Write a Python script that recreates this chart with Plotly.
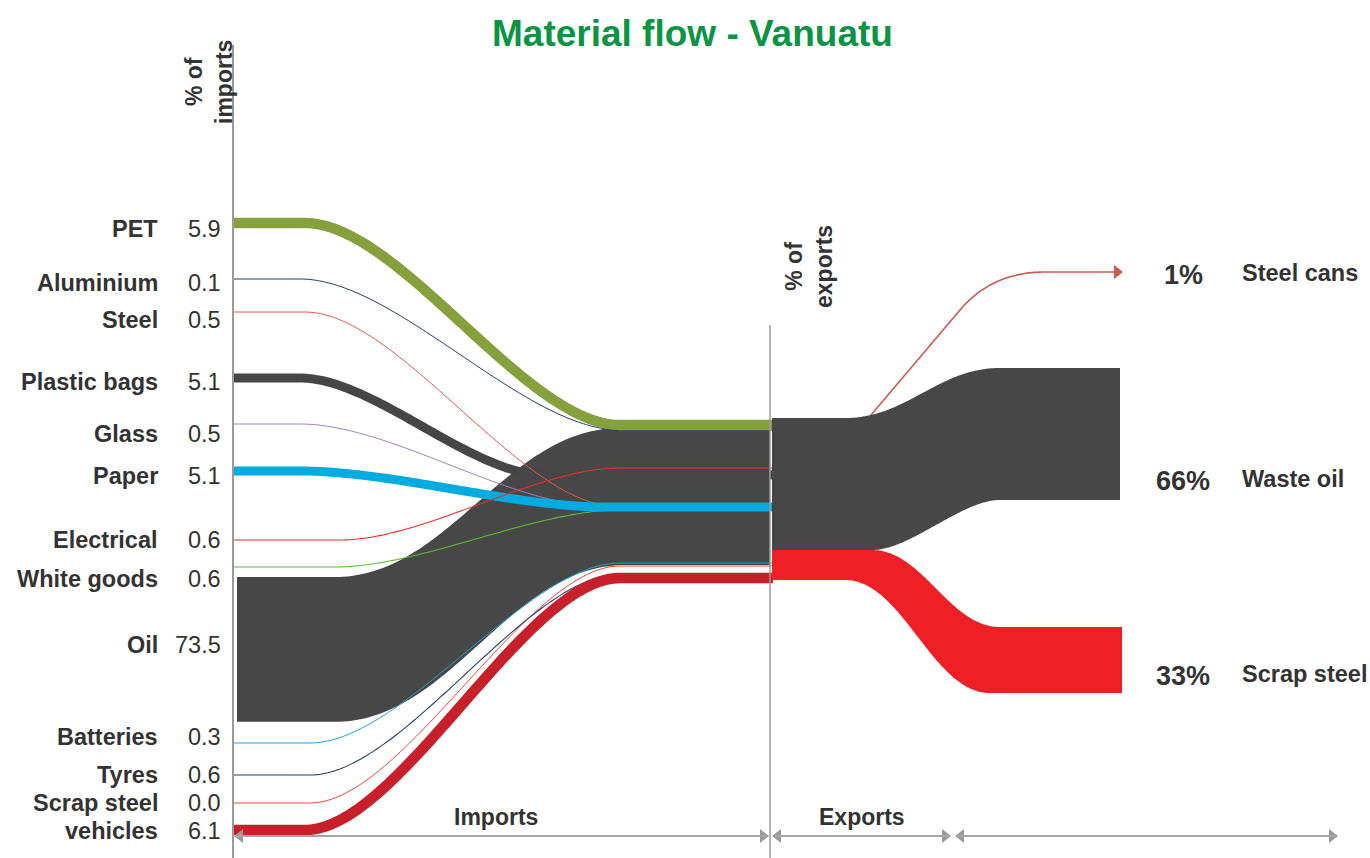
import plotly.graph_objects as go

# ---------------- data ----------------
materials = ["PET", "Aluminium", "Steel", "Plastic bags", "Glass", "Paper",
             "Electrical", "White goods", "Oil", "Batteries", "Tyres",
             "Scrap steel", "vehicles"]
import_pct = [5.9, 0.1, 0.5, 5.1, 0.5, 5.1, 0.6, 0.6, 73.5, 0.3, 0.6, 0.0, 6.1]

export_names = ["Steel cans", "Waste oil", "Scrap steel"]
export_pct = [1, 66, 33]

title_text = "Material flow - Vanuatu"

# ---------------- styling / layout (positions in page pixels) ----------------
colors = ["#86a03e", "#1f3f6e", "#e0584a", "#464646", "#9b80c4", "#00abdf",
          "#e8302a", "#5cbf3a", "#474747", "#1aa6d6", "#1f3a6a", "#e8473a", "#c8202a"]
export_colors = ["#cc5a50", "#474747", "#ee2026"]

y_left = [223, 279, 312, 378, 424, 471, 540, 567, 577, 743, 775, 803, 830]
y_mid = [425, 430, 506, 475, 506, 507, 468, 510, 428, 563, 574, 566, 578]
c_start = [305, 300, 305, 300, 300, 300, 340, 335, 335, 310, 310, 310, 305]
c_end = [620, 620, 615, 545, 600, 605, 620, 620, 620, 620, 620, 620, 620]
label_y = [229, 283, 320, 382, 434, 476, 540, 579, 645, 737, 775, 803, 831]
oil_mid_bottom = 565
draw_order = [3, 2, 4, 7, 1, 0, 5, 6, 9, 11, 10, 12]

LINE_SCALE = 1.75
BAND_SCALE = 1.97
EXP_SCALE = 2.0
X_AXIS = 233
X_MID = 770

FONT = "Arial, Liberation Sans, sans-serif"
TXT = "#333333"


def bez(x0, y0, x1, y1, n=80, c=0.4):
    dx = x1 - x0
    p1 = (x0 + c * dx, y0)
    p2 = (x1 - c * dx, y1)
    xs, ys = [], []
    for i in range(n + 1):
        t = i / n
        a = (1 - t) ** 3
        b = 3 * (1 - t) ** 2 * t
        cc = 3 * (1 - t) * t ** 2
        d = t ** 3
        xs.append(a * x0 + b * p1[0] + cc * p2[0] + d * x1)
        ys.append(a * y0 + b * p1[1] + cc * p2[1] + d * y1)
    return xs, ys


def quad(p0, p1, p2, n=40):
    xs, ys = [], []
    for i in range(n + 1):
        t = i / n
        xs.append((1 - t) ** 2 * p0[0] + 2 * (1 - t) * t * p1[0] + t ** 2 * p2[0])
        ys.append((1 - t) ** 2 * p0[1] + 2 * (1 - t) * t * p1[1] + t ** 2 * p2[1])
    return xs, ys


def flow(xs, ys, xa, xb, ye, xe, c=0.4):
    bx, by = bez(xa, ys, xb, ye, c=c)
    return [xs] + bx + [xe], [ys] + by + [ye]


fig = go.Figure()

# Oil band (imports)
oi = materials.index("Oil")
top_x, top_y = flow(X_AXIS + 4, y_left[oi], c_start[oi], c_end[oi], y_mid[oi], X_MID)
bot_y0 = y_left[oi] + import_pct[oi] * BAND_SCALE
bot_x, bot_y = flow(X_AXIS + 4, bot_y0, c_start[oi], c_end[oi] + 5, oil_mid_bottom, X_MID)
fig.add_trace(go.Scatter(x=top_x + bot_x[::-1], y=top_y + bot_y[::-1], fill="toself",
                         fillcolor=colors[oi], line=dict(width=0, simplify=False), mode="lines",
                         hoverinfo="skip", showlegend=False))

# Import flows as lines
for i in draw_order:
    w = max(1.0, import_pct[i] * LINE_SCALE)
    xs, ys = flow(X_AXIS + 1, y_left[i], c_start[i], c_end[i], y_mid[i], X_MID + 3, c=0.3)
    fig.add_trace(go.Scatter(x=xs, y=ys, mode="lines",
                             line=dict(color=colors[i], width=w, simplify=False),
                             hoverinfo="skip", showlegend=False))

# Steel cans export arrow (under gray block)
qx, qy = quad((960, 310), (992, 272), (1045, 272))
sx = [860] + qx + [1114]
sy = [428] + qy + [272]
fig.add_trace(go.Scatter(x=sx, y=sy, mode="lines",
                         line=dict(color=export_colors[0], width=1.6, simplify=False),
                         hoverinfo="skip", showlegend=False))
fig.add_trace(go.Scatter(x=[1117], y=[272], mode="markers",
                         marker=dict(symbol="triangle-right", size=12, color=export_colors[0]),
                         hoverinfo="skip", showlegend=False))

# Waste oil export band
wt_end = 368
wb_end = wt_end + export_pct[1] * EXP_SCALE
tx, ty = flow(772, 418, 845, 1000, wt_end, 1120)
bx, by = flow(772, 550, 872, 1000, wb_end, 1120, c=0.3)
fig.add_trace(go.Scatter(x=tx + bx[::-1], y=ty + by[::-1], fill="toself",
                         fillcolor=export_colors[1], line=dict(width=0, simplify=False), mode="lines",
                         hoverinfo="skip", showlegend=False))

# Scrap steel export band
rt_end = 627
rb_end = rt_end + export_pct[2] * EXP_SCALE
tx, ty = flow(772, 550, 872, 1000, rt_end, 1122)
bx, by = flow(772, 580, 845, 990, rb_end, 1122)
fig.add_trace(go.Scatter(x=tx + bx[::-1], y=ty + by[::-1], fill="toself",
                         fillcolor=export_colors[2], line=dict(width=0, simplify=False), mode="lines",
                         hoverinfo="skip", showlegend=False))

shapes = [
    dict(type="line", x0=X_AXIS, x1=X_AXIS, y0=45, y1=858, line=dict(color="#9a9a9a", width=2)),
    dict(type="line", x0=X_MID, x1=X_MID, y0=325, y1=858, line=dict(color="#9a9a9a", width=1.5)),
]
arrow_segs = [(236, 767), (774, 949), (957, 1336)]
ax_y = 836
for a, b in arrow_segs:
    shapes.append(dict(type="line", x0=a, x1=b, y0=ax_y, y1=ax_y,
                       line=dict(color="#a6a6a6", width=2)))
    fig.add_trace(go.Scatter(x=[a + 4, b - 4], y=[ax_y, ax_y], mode="markers",
                             marker=dict(symbol=["triangle-left", "triangle-right"], size=12,
                                         color="#999999"),
                             hoverinfo="skip", showlegend=False))

ann = []
# title
ann.append(dict(x=692, y=33, text="<b>" + title_text + "</b>", showarrow=False,
                font=dict(family=FONT, size=37, color="#0b9444"), xanchor="center", yanchor="middle"))
# axis captions
ann.append(dict(x=209, y=82, text="<b>% of<br>imports</b>", textangle=-90, showarrow=False,
                font=dict(family=FONT, size=23, color=TXT), xanchor="center", yanchor="middle"))
ann.append(dict(x=809, y=267, text="<b>% of<br>exports</b>", textangle=-90, showarrow=False,
                font=dict(family=FONT, size=23, color=TXT), xanchor="center", yanchor="middle"))
ann.append(dict(x=496, y=817, text="<b>Imports</b>", showarrow=False,
                font=dict(family=FONT, size=23, color=TXT), xanchor="center", yanchor="middle"))
ann.append(dict(x=862, y=817, text="<b>Exports</b>", showarrow=False,
                font=dict(family=FONT, size=23, color=TXT), xanchor="center", yanchor="middle"))

# left labels
for i, m in enumerate(materials):
    ann.append(dict(x=160, y=label_y[i], text="<b>" + m + "</b>", showarrow=False,
                    font=dict(family=FONT, size=23.5, color=TXT), xanchor="right", yanchor="middle"))
    ann.append(dict(x=223, y=label_y[i], text=f"{import_pct[i]:.1f}", showarrow=False,
                    font=dict(family=FONT, size=23.5, color=TXT), xanchor="right", yanchor="middle"))

# right labels
exp_y = [273, 479, 674]
for i, n in enumerate(export_names):
    ann.append(dict(x=1183, y=exp_y[i] + 2, text=f"<b>{export_pct[i]}%</b>", showarrow=False,
                    font=dict(family=FONT, size=27, color=TXT), xanchor="center", yanchor="middle"))
    ann.append(dict(x=1240, y=exp_y[i], text="<b>" + n + "</b>", showarrow=False,
                    font=dict(family=FONT, size=23.5, color=TXT), xanchor="left", yanchor="middle"))

fig.update_layout(
    width=1370, height=858,
    margin=dict(l=0, r=0, t=0, b=0),
    paper_bgcolor="white", plot_bgcolor="white",
    xaxis=dict(range=[0, 1370], visible=False, fixedrange=True),
    yaxis=dict(range=[858, 0], visible=False, fixedrange=True),
    shapes=shapes, annotations=ann, showlegend=False,
)

fig.write_html("out.html", post_script="document.body.style.margin='0';",
               config={"displayModeBar": False})
